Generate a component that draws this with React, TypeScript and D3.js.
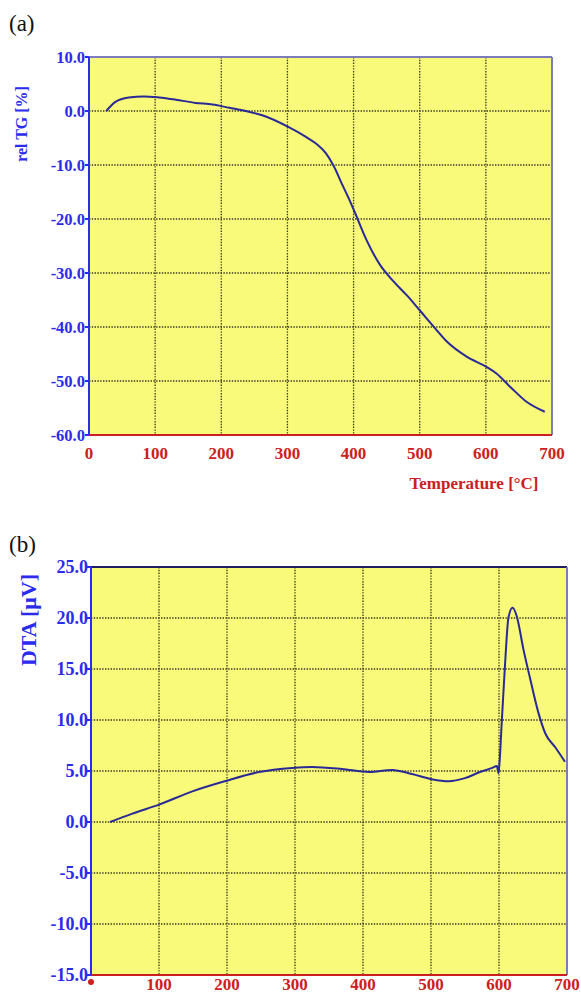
import React from "react";
import * as d3 from "d3";

// (a) relative TG curve: temperature (°C) vs rel TG (%)
const tgTemp = [26, 40, 60, 83, 106, 131, 161, 187, 212, 237, 262, 302, 328, 345, 358, 370, 382, 392, 402, 420, 440, 460, 481, 500, 523, 541, 571, 601, 616, 637, 662, 689];
const tgValue = [0.0, 1.7, 2.5, 2.7, 2.5, 2.1, 1.5, 1.2, 0.6, 0.0, -0.8, -3.0, -4.8, -6.2, -7.8, -10.2, -13.4, -16.0, -18.8, -24.0, -28.5, -31.5, -34.2, -36.9, -40.2, -42.7, -45.5, -47.4, -48.6, -51.1, -53.9, -55.7];
const tgYTicks = [10, 0, -10, -20, -30, -40, -50, -60];
const tgXTicks = [0, 100, 200, 300, 400, 500, 600, 700];

// (b) DTA curve: temperature (°C) vs DTA (µV)
const dtaTemp = [28, 60, 100, 149, 197, 247, 296, 325, 369, 409, 443, 472, 501, 526, 550, 572, 590, 597, 599, 600, 604, 609, 614, 620, 626, 636, 646, 658, 668, 683, 697];
const dtaValue = [0.0, 0.8, 1.7, 3.0, 4.0, 4.9, 5.3, 5.4, 5.2, 4.9, 5.1, 4.7, 4.2, 4.0, 4.3, 4.9, 5.3, 5.5, 4.8, 5.2, 9.7, 15.6, 20.1, 21.0, 20.2, 16.9, 14.0, 10.7, 8.7, 7.3, 5.9];
const dtaYTicks = [25, 20, 15, 10, 5, 0, -5, -10, -15];
const dtaXTicks = [100, 200, 300, 400, 500, 600, 700];

const BLUE = "#2b2bf0";
const RED = "#cc2020";
const NAVY = "#2a2a96";
const BG = "#fafa7a";
const FRAME = "#7c7cbc";
const FONT = "'Liberation Serif', 'Times New Roman', serif";

export default function App() {
  // panel (a)
  const ax = d3.scaleLinear().domain([0, 700]).range([89, 552]);
  const ay = d3.scaleLinear().domain([-60, 10]).range([435, 57]);
  const aLine = d3
    .line<number>()
    .x((_, i) => ax(tgTemp[i]))
    .y((d) => ay(d))
    .curve(d3.curveMonotoneX);

  // panel (b)
  const bx = d3.scaleLinear().domain([0, 700]).range([91, 567]);
  const by = d3.scaleLinear().domain([-15, 25]).range([975, 567]);
  const bLine = d3
    .line<number>()
    .x((_, i) => bx(dtaTemp[i]))
    .y((d) => by(d))
    .curve(d3.curveMonotoneX);

  const grid = { stroke: "#3a3a20", strokeWidth: 1.3, strokeDasharray: "1.4 1.4" };

  return (
    <svg width={581} height={995} style={{ position: "absolute", left: 0, top: 0, background: "#fff" }} fontFamily={FONT}>
      {/* ---------- (a) ---------- */}
      <text x={9} y={31} fontSize={23} fill="#111">(a)</text>
      <rect x={ax(0)} y={ay(10)} width={ax(700) - ax(0)} height={ay(-60) - ay(10)} fill={BG} />
      {tgXTicks.slice(1, -1).map((t) => (
        <line key={"agx" + t} x1={ax(t)} x2={ax(t)} y1={ay(10)} y2={ay(-60)} {...grid} />
      ))}
      {tgYTicks.slice(1, -1).map((t) => (
        <line key={"agy" + t} x1={ax(0)} x2={ax(700)} y1={ay(t)} y2={ay(t)} {...grid} />
      ))}
      <line x1={ax(0)} x2={ax(700)} y1={ay(10)} y2={ay(10)} stroke={FRAME} strokeWidth={2} />
      <line x1={ax(700)} x2={ax(700)} y1={ay(10)} y2={ay(-60)} stroke={FRAME} strokeWidth={2} />
      <line x1={ax(0)} x2={ax(0)} y1={ay(10)} y2={ay(-60)} stroke={BLUE} strokeWidth={2} />
      <line x1={ax(0)} x2={ax(700)} y1={ay(-60)} y2={ay(-60)} stroke={RED} strokeWidth={2} />
      {tgYTicks.map((t) => (
        <g key={"ayt" + t}>
          <line x1={ax(0) - 4} x2={ax(0)} y1={ay(t)} y2={ay(t)} stroke={BLUE} strokeWidth={2} />
          <text x={ax(0) - 4} y={ay(t)} dy="0.35em" textAnchor="end" fontSize={16.5} fontWeight="bold" fill={BLUE}>
            {t.toFixed(1)}
          </text>
        </g>
      ))}
      {tgXTicks.map((t) => (
        <text key={"axt" + t} x={ax(t)} y={459} textAnchor="middle" fontSize={17} fontWeight="bold" fill={RED}>
          {t}
        </text>
      ))}
      <text x={474} y={489} textAnchor="middle" fontSize={17} fontWeight="bold" fill={RED}>
        Temperature [°C]
      </text>
      <text transform="translate(27,124) rotate(-90)" textAnchor="middle" fontSize={16} fontWeight="bold" fill={BLUE}>
        rel TG [%]
      </text>
      <path d={aLine(tgValue) || ""} fill="none" stroke={NAVY} strokeWidth={2} />

      {/* ---------- (b) ---------- */}
      <text x={9} y={552} fontSize={23} fill="#111">(b)</text>
      <rect x={bx(0)} y={by(25)} width={bx(700) - bx(0)} height={by(-15) - by(25)} fill={BG} />
      {dtaXTicks.slice(0, -1).map((t) => (
        <line key={"bgx" + t} x1={bx(t)} x2={bx(t)} y1={by(25)} y2={by(-15)} {...grid} />
      ))}
      {dtaYTicks.slice(1, -1).map((t) => (
        <line key={"bgy" + t} x1={bx(0)} x2={bx(700)} y1={by(t)} y2={by(t)} {...grid} />
      ))}
      <line x1={bx(0)} x2={bx(700)} y1={by(25)} y2={by(25)} stroke="#202060" strokeWidth={2} />
      <line x1={bx(700)} x2={bx(700)} y1={by(25)} y2={by(-15)} stroke={FRAME} strokeWidth={2} />
      <line x1={bx(0)} x2={bx(0)} y1={by(25)} y2={by(-15)} stroke={BLUE} strokeWidth={2} />
      <line x1={bx(0)} x2={bx(700)} y1={by(-15)} y2={by(-15)} stroke={RED} strokeWidth={2} />
      {dtaYTicks.map((t) => (
        <g key={"byt" + t}>
          <line x1={bx(0) - 4} x2={bx(0)} y1={by(t)} y2={by(t)} stroke={BLUE} strokeWidth={2} />
          <text x={bx(0) - 3} y={by(t)} dy="0.35em" textAnchor="end" fontSize={18} fontWeight="bold" fill={BLUE}>
            {t.toFixed(1)}
          </text>
        </g>
      ))}
      <circle cx={bx(0)} cy={by(-15) + 7} r={3} fill={RED} />
      {dtaXTicks.map((t) => (
        <text key={"bxt" + t} x={bx(t)} y={990} textAnchor="middle" fontSize={17} fontWeight="bold" fill={RED}>
          {t}
        </text>
      ))}
      <text transform="translate(36,620) rotate(-90)" textAnchor="middle" fontSize={22} fontWeight="bold" fill={BLUE}>
        DTA [μV]
      </text>
      <path d={bLine(dtaValue) || ""} fill="none" stroke={NAVY} strokeWidth={2} />
    </svg>
  );
}
